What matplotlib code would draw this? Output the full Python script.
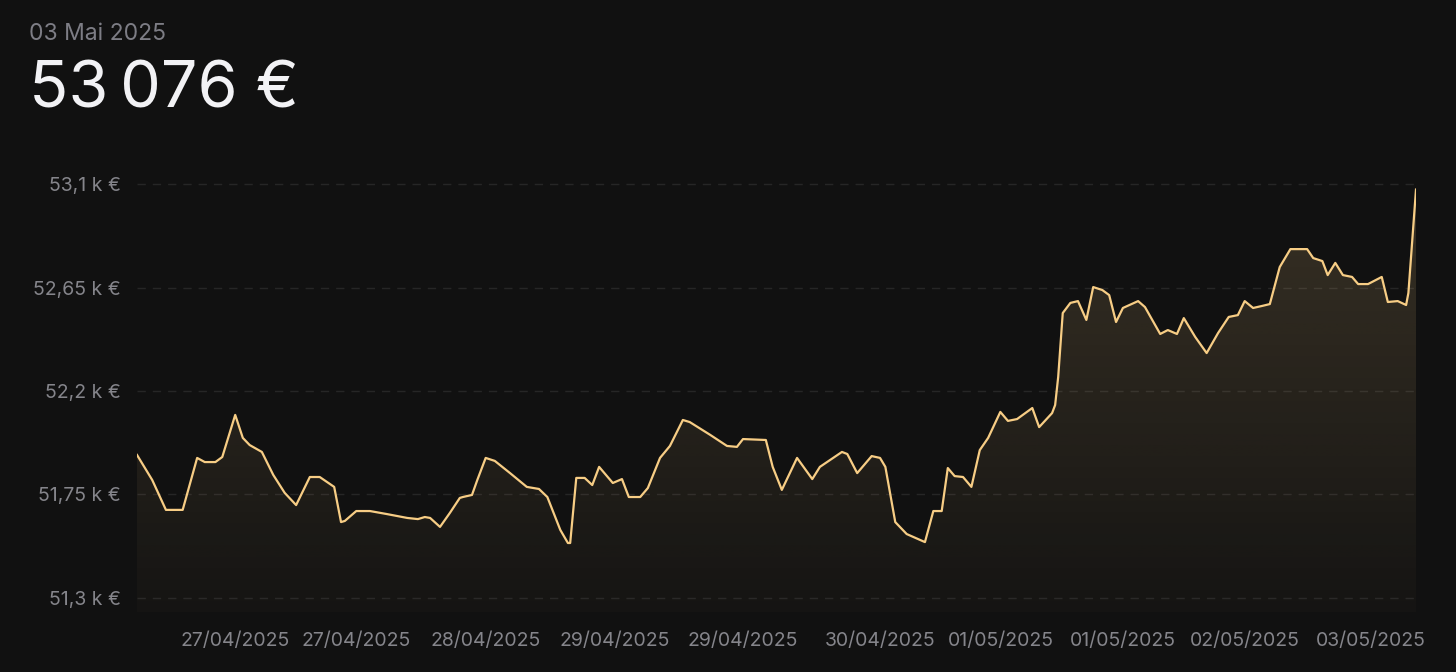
import matplotlib
matplotlib.use("Agg")
import matplotlib.pyplot as plt
import numpy as np
from matplotlib.patches import Polygon

# hours since start of the window, portfolio value in k EUR
hours = [0, 2.0, 3.8, 6.0, 7.9, 8.9, 10.3, 11.2, 12.9, 13.9, 14.8, 16.4, 17.9,
         19.4, 20.9, 22.7, 24.0, 25.9, 26.8, 27.3, 28.8, 30.6, 32.8, 35.5, 36.9,
         37.8, 38.5, 39.8, 41.1, 42.4, 42.8, 44.0, 44.7, 45.8, 47.0, 49.0, 51.2,
         52.8, 53.9, 55.6, 56.6, 56.9, 57.7, 58.8, 59.8, 60.7, 62.5, 63.7, 64.6,
         66.1, 67.1, 68.7, 70.0, 71.7, 72.6, 75.3, 77.5, 78.8, 79.6, 82.6, 83.5,
         84.7, 86.7, 88.7, 89.7, 92.6, 93.3, 94.6, 96.5, 97.6, 98.3, 99.6, 101.1,
         103.5, 104.6, 105.7, 106.5, 107.4, 108.5, 109.6, 110.7, 111.8, 113.4,
         114.4, 115.6, 117.6, 118.5, 120.2, 120.6, 121.0, 121.6, 122.6, 123.6,
         124.7, 125.6, 126.8, 127.7, 128.6, 129.5, 131.5, 132.4, 134.4, 135.4,
         136.6, 137.5, 139.0, 140.5, 142.0, 143.4, 144.6, 145.5, 146.6, 147.8,
         148.8, 150.1, 151.5, 153.7, 154.5, 155.7, 156.4, 157.4, 158.4, 159.6,
         160.4, 161.7, 163.5, 164.3, 165.6, 166.7, 167.0, 168.0]
values = [51.922, 51.813, 51.683, 51.683, 51.909, 51.891, 51.891, 51.913, 52.096,
          51.996, 51.965, 51.935, 51.835, 51.757, 51.704, 51.826, 51.826, 51.783,
          51.630, 51.635, 51.678, 51.678, 51.665, 51.648, 51.643, 51.652, 51.648,
          51.609, 51.670, 51.735, 51.739, 51.748, 51.813, 51.909, 51.896, 51.843,
          51.783, 51.774, 51.739, 51.596, 51.539, 51.539, 51.822, 51.822, 51.791,
          51.870, 51.800, 51.817, 51.739, 51.739, 51.778, 51.909, 51.961, 52.074,
          52.065, 52.009, 51.961, 51.957, 51.991, 51.987, 51.870, 51.770, 51.909,
          51.817, 51.870, 51.935, 51.926, 51.843, 51.917, 51.909, 51.870, 51.630,
          51.578, 51.543, 51.678, 51.678, 51.865, 51.830, 51.826, 51.783, 51.943,
          51.996, 52.109, 52.070, 52.078, 52.126, 52.043, 52.104, 52.139, 52.261,
          52.539, 52.583, 52.591, 52.509, 52.652, 52.639, 52.617, 52.500, 52.561,
          52.591, 52.565, 52.448, 52.465, 52.448, 52.517, 52.435, 52.365, 52.452,
          52.522, 52.530, 52.591, 52.561, 52.570, 52.578, 52.739, 52.817, 52.817,
          52.778, 52.765, 52.704, 52.757, 52.704, 52.696, 52.665, 52.665, 52.696,
          52.587, 52.591, 52.574, 52.626, 53.076]

y_ticks = [51.3, 51.75, 52.2, 52.65, 53.1]
y_labels = ["51,3 k €", "51,75 k €", "52,2 k €", "52,65 k €", "53,1 k €"]
x_ticks = [12.9, 28.8, 45.8, 62.8, 79.6, 97.6, 113.5, 129.5, 145.5, 162.0]
x_labels = ["27/04/2025", "27/04/2025", "28/04/2025", "29/04/2025", "29/04/2025",
            "30/04/2025", "01/05/2025", "01/05/2025", "02/05/2025", "03/05/2025"]

bg = "#111111"
gold = "#f7cd85"
fonts = ["Inter", "DejaVu Sans"]
plt.rcParams["font.family"] = fonts

fig = plt.figure(figsize=(14.56, 6.72), dpi=100, facecolor=bg)
ax = fig.add_axes([137 / 1456, 1 - 612 / 672, 1279 / 1456, 442 / 672])
ax.set_facecolor(bg)

ymin, ymax = 51.239, 53.161
ax.set_xlim(0, 168)
ax.set_ylim(ymin, ymax)

# gradient fill under the line
grad = np.zeros((256, 2, 4))
grad[..., 0] = 247 / 255
grad[..., 1] = 205 / 255
grad[..., 2] = 133 / 255
grad[..., 3] = np.linspace(0.02, 0.17, 256)[:, None]
im = ax.imshow(grad, extent=[0, 168, ymin, 53.1], origin="lower",
               aspect="auto", zorder=1)
verts = [(hours[0], ymin)] + list(zip(hours, values)) + [(hours[-1], ymin)]
clip = Polygon(verts, closed=True, transform=ax.transData, facecolor="none",
               edgecolor="none")
ax.add_patch(clip)
im.set_clip_path(clip)

for yt in y_ticks:
    ax.axhline(yt, color="#262626", lw=1, dashes=(6, 5), zorder=0.5)

ax.plot(hours, values, color=gold, lw=1.6, zorder=3, solid_joinstyle="round")

ax.set_yticks(y_ticks)
ax.set_yticklabels(y_labels)
ax.set_xticks(x_ticks)
ax.set_xticklabels(x_labels)
ax.tick_params(axis="both", length=0, colors="#85858b", labelsize=14)
ax.tick_params(axis="y", pad=11.5)
ax.tick_params(axis="x", pad=14.5)
for s in ax.spines.values():
    s.set_visible(False)

fig.text(29 / 1456, 1 - 40 / 672, "03 Mai 2025", color="#7d7d85", fontsize=16.5,
         va="baseline", ha="left")
fig.text(29 / 1456, 1 - 108 / 672, "53\u202f076 €", color="#f2f2f5",
         fontsize=46.5, va="baseline", ha="left")

plt.savefig("out.png", dpi=100, facecolor=bg)
